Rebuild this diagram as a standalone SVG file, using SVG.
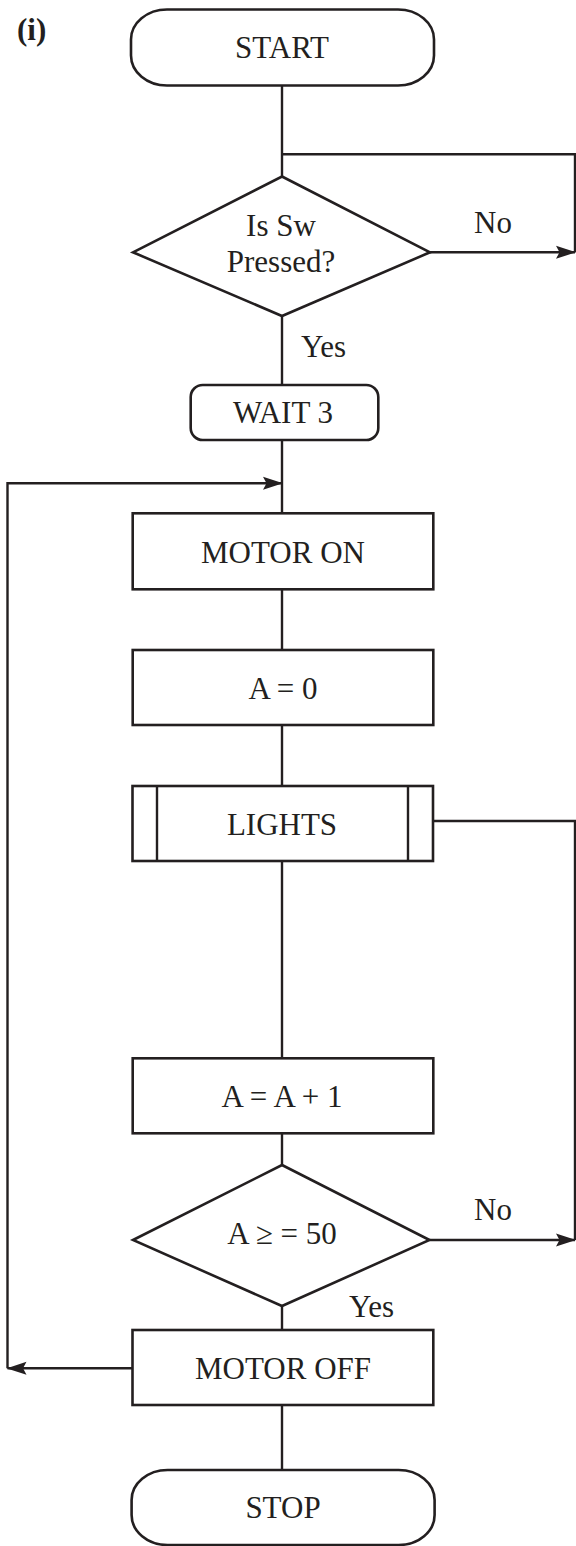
<svg xmlns="http://www.w3.org/2000/svg" width="576" height="1546" viewBox="0 0 576 1546">
<defs>
<style>
.shape{fill:#fff;stroke:#231f20;stroke-width:2.6}
.line{fill:none;stroke:#231f20;stroke-width:2.4}
.t{font-family:"Liberation Serif","Times New Roman",serif;font-size:31px;fill:#231f20;text-anchor:middle}
.lbl{font-family:"Liberation Serif","Times New Roman",serif;font-size:31px;fill:#231f20}
</style>
<marker id="arr" markerUnits="userSpaceOnUse" markerWidth="20" markerHeight="14" refX="19" refY="7" orient="auto">
<path d="M0,0.5 L20,7 L0,13.5 L3.5,7 Z" fill="#231f20"/>
</marker>
</defs>
<rect width="576" height="1546" fill="#fff"/>
<text x="17" y="40" font-family="Liberation Serif, Times New Roman, serif" font-size="31" font-weight="bold" fill="#231f20">(i)</text>
<g id="connectors">
<path class="line" d="M282,86 V176"/>
<path class="line" d="M282,154.3 H575 V252.3"/>
<path class="line" d="M430,252.3 H575" marker-end="url(#arr)"/>
<path class="line" d="M282,316 V385"/>
<path class="line" d="M282,440 V513"/>
<path class="line" d="M132.5,1368.3 H7.5" marker-end="url(#arr)"/>
<path class="line" d="M7.5,1368.3 V483.3 H282" marker-end="url(#arr)"/>
<path class="line" d="M282,589 V650"/>
<path class="line" d="M282,725 V786"/>
<path class="line" d="M282,861 V1058"/>
<path class="line" d="M433,821 H575 V1240"/>
<path class="line" d="M429.5,1240 H575" marker-end="url(#arr)"/>
<path class="line" d="M282,1133 V1165"/>
<path class="line" d="M282,1306 V1330"/>
<path class="line" d="M282,1405 V1470"/>
<text class="lbl" x="474" y="233">No</text>
<text class="lbl" x="301" y="357">Yes</text>
<text class="lbl" x="474" y="1220">No</text>
<text class="lbl" x="349" y="1317">Yes</text>
</g>
<g id="start">
<rect class="shape" x="131" y="9.5" width="303" height="76" rx="36" ry="30"/>
<text class="t" x="282" y="58">START</text>
</g>
<g id="decision-sw">
<polygon class="shape" points="282,176.5 430,252.3 282,316 133,252.3"/>
<text class="t" x="281" y="236">Is Sw</text>
<text class="t" x="281" y="272">Pressed?</text>
</g>
<g id="wait3">
<rect class="shape" x="190.7" y="385" width="187.6" height="55" rx="12"/>
<text class="t" x="283" y="422.5">WAIT 3</text>
</g>
<g id="motor-on">
<rect class="shape" x="132.7" y="513.3" width="300.6" height="76"/>
<text class="t" x="283" y="562.5">MOTOR ON</text>
</g>
<g id="a-zero">
<rect class="shape" x="132.7" y="650" width="300.6" height="75"/>
<text class="t" x="283" y="698.5">A = 0</text>
</g>
<g id="lights">
<rect class="shape" x="132.5" y="786" width="300.5" height="75"/>
<path class="line" d="M157,786 V861 M408,786 V861"/>
<text class="t" x="282" y="834.5">LIGHTS</text>
</g>
<g id="a-inc">
<rect class="shape" x="132.7" y="1058.3" width="300.6" height="75"/>
<text class="t" x="282" y="1106.5">A = A + 1</text>
</g>
<g id="decision-a">
<polygon class="shape" points="282,1165 429.5,1240 282,1306 133,1240"/>
<text class="t" x="282" y="1243.5">A ≥ = 50</text>
</g>
<g id="motor-off">
<rect class="shape" x="132.5" y="1330" width="300.8" height="75"/>
<text class="t" x="283" y="1379">MOTOR OFF</text>
</g>
<g id="stop">
<rect class="shape" x="131.6" y="1470" width="303" height="75" rx="36" ry="30"/>
<text class="t" x="283" y="1518">STOP</text>
</g>
</svg>
